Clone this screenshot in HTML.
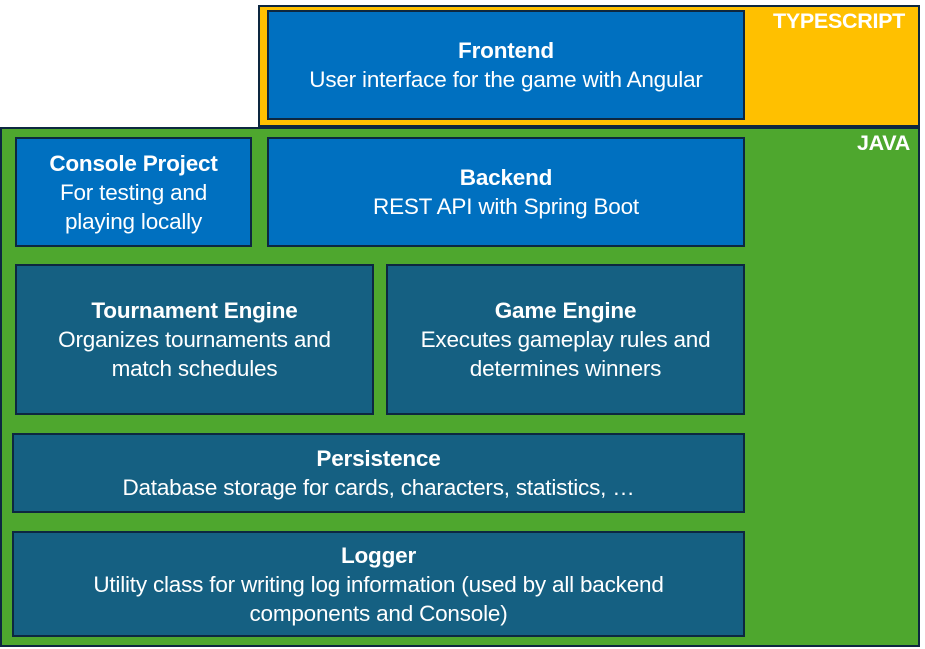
<!DOCTYPE html>
<html><head><style>
body{margin:0;width:925px;height:649px;background:#fff;position:relative;overflow:hidden;font-family:"Liberation Sans",sans-serif}
.b{position:absolute;box-sizing:border-box;border:2px solid #0d2740}
.ts{left:258px;top:5px;width:662px;height:122px;background:#ffc000}
.java{left:0;top:127px;width:920px;height:520px;background:#4ea72e}
.lbl{position:absolute;color:#fff;font-weight:bold;font-size:21.5px;letter-spacing:-0.3px}
.n{display:flex;flex-direction:column;justify-content:center;align-items:center;text-align:center;color:#fff;font-size:22.5px;line-height:29px;letter-spacing:-0.2px}
.n b{font-size:22.5px}
.bl{background:#0070c0}
.dk{background:#156082}
</style></head><body>
<div class="b ts"></div>
<div class="b java"></div>
<div class="lbl" style="left:773px;top:9px">TYPESCRIPT</div>
<div class="lbl" style="left:857px;top:131px">JAVA</div>
<div class="b n bl" style="left:267px;top:10px;width:478px;height:110px"><b>Frontend</b>User interface for the game with Angular</div>
<div class="b n bl" style="left:15px;top:137px;width:237px;height:110px"><b>Console Project</b>For testing and<br>playing locally</div>
<div class="b n bl" style="left:267px;top:137px;width:478px;height:110px"><b>Backend</b>REST API with Spring Boot</div>
<div class="b n dk" style="left:15px;top:264px;width:359px;height:151px"><b>Tournament Engine</b>Organizes tournaments and<br>match schedules</div>
<div class="b n dk" style="left:386px;top:264px;width:359px;height:151px"><b>Game Engine</b>Executes gameplay rules and<br>determines winners</div>
<div class="b n dk" style="left:12px;top:433px;width:733px;height:80px"><b>Persistence</b>Database storage for cards, characters, statistics, …</div>
<div class="b n dk" style="left:12px;top:531px;width:733px;height:106px"><b>Logger</b>Utility class for writing log information (used by all backend<br>components and Console)</div>
</body></html>
